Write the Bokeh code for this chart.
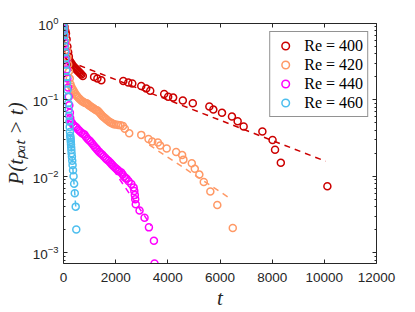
from bokeh.plotting import figure
from bokeh.models import LinearAxis, LogAxis, FixedTicker, Legend, LegendItem
from bokeh.embed import file_html
from bokeh.resources import INLINE

# ---------------- data ----------------
t400 = [0, 40, 70, 95, 120, 150, 180, 205, 229, 270, 306, 345, 382, 420, 459, 500, 535,
        575, 611, 650, 688, 740, 1173, 1300, 1452, 2293, 2484, 2637, 2981, 3172, 3325,
        3860, 4013, 4204, 4575, 4957, 5592, 5745, 6077, 6459, 6677, 6906, 7625, 8015,
        8110, 8332, 10117]
p400 = [1.0, 0.9, 0.8, 0.74, 0.62, 0.5, 0.42, 0.37, 0.33, 0.31, 0.299, 0.285, 0.273,
        0.265, 0.257, 0.249, 0.242, 0.235, 0.228, 0.221, 0.215, 0.205, 0.200, 0.190,
        0.181, 0.176, 0.169, 0.164, 0.152, 0.141, 0.132, 0.119, 0.110, 0.107, 0.098,
        0.090, 0.082, 0.0746, 0.0676, 0.0604, 0.0524, 0.0447, 0.0385, 0.0299, 0.0223,
        0.0150, 0.0074]

t420 = [0, 30, 60, 90, 120, 150, 180, 210, 240, 268, 300, 340, 380, 420, 460, 500, 535,
        580, 630, 680, 730, 780, 830, 880, 917, 960, 1010, 1060, 1110, 1160, 1210, 1260,
        1300, 1350, 1400, 1450, 1500, 1550, 1605, 1660, 1720, 1780, 1830, 1873, 1930,
        2000, 2100, 2190, 2282, 2350, 2520, 2981, 3260, 3402, 3619, 3707, 3956, 4319,
        4548, 4598, 4919, 5034, 5209, 5378, 5630, 5897, 6490]
p420 = [1.0, 0.85, 0.7, 0.57, 0.45, 0.36, 0.29, 0.235, 0.19, 0.16, 0.148, 0.140, 0.133,
        0.126, 0.119, 0.114, 0.110, 0.106, 0.102, 0.098, 0.095, 0.093, 0.091, 0.090,
        0.089, 0.086, 0.083, 0.081, 0.079, 0.077, 0.075, 0.073, 0.0724, 0.070, 0.067,
        0.064, 0.061, 0.059, 0.057, 0.055, 0.053, 0.051, 0.050, 0.049, 0.048, 0.0475,
        0.047, 0.0465, 0.0455, 0.0420, 0.0365, 0.0348, 0.0308, 0.0284, 0.0276, 0.0252,
        0.0230, 0.0208, 0.0190, 0.0165, 0.0148, 0.0125, 0.0105, 0.0084, 0.0063, 0.0042,
        0.0021]

t440 = [0, 15, 33, 54, 77, 101, 126, 151, 176, 201, 224, 245, 259, 268, 320, 380, 440,
        497, 560, 620, 680, 740, 803, 860, 920, 980, 1032, 1090, 1150, 1210, 1260, 1300,
        1360, 1420, 1480, 1540, 1605, 1660, 1720, 1780, 1830, 1873, 1930, 1990, 2050,
        2100, 2140, 2217, 2270, 2320, 2380, 2420, 2500, 2600, 2690, 2715, 2735, 2750,
        2770, 2916, 3107, 3275, 3467, 3490]
p440 = [1.0, 0.85, 0.7, 0.55, 0.43, 0.33, 0.25, 0.19, 0.145, 0.11, 0.085, 0.068, 0.058,
        0.052, 0.050, 0.047, 0.045, 0.0434, 0.041, 0.039, 0.0375, 0.036, 0.0351, 0.033,
        0.031, 0.0295, 0.0284, 0.027, 0.0255, 0.024, 0.023, 0.022, 0.021, 0.020, 0.0192,
        0.0183, 0.0173, 0.0166, 0.0159, 0.0152, 0.0146, 0.0140, 0.0134, 0.0128, 0.0123,
        0.0119, 0.0115, 0.0112, 0.0105, 0.0099, 0.0095, 0.0093, 0.0086, 0.0079, 0.0071,
        0.0064, 0.0057, 0.0050, 0.0043, 0.00357, 0.00286, 0.00214, 0.00143, 0.00072]

t460 = [0, 8, 17, 27, 39, 53, 66, 80, 94, 108, 122, 137, 152, 167, 183, 197, 211, 224,
        237, 248, 257, 270, 276, 282, 288, 295, 302, 310, 322, 335, 348, 365, 385, 408,
        432, 468, 490]
p460 = [1.0, 0.9, 0.8, 0.7, 0.6, 0.5, 0.42, 0.35, 0.29, 0.24, 0.2, 0.165, 0.135, 0.11,
        0.09, 0.075, 0.062, 0.052, 0.044, 0.038, 0.034, 0.032, 0.030, 0.028, 0.026,
        0.024, 0.022, 0.020, 0.018, 0.016, 0.014, 0.012, 0.010, 0.008, 0.006, 0.004,
        0.002]

# exponential fits (dashed), end points
fit400_t = [611, 10052]
fit400_p = [0.282, 0.0157]
fit420_t = [3287, 6383]
fit420_p = [0.0257, 0.00513]
fit440_t = [1911, 3363]
fit440_p = [0.0121, 0.00225]
fit460_t = [260, 480]
fit460_p = [0.035, 0.0036]

labels = ["Re = 400", "Re = 420", "Re = 440", "Re = 460"]
colors = ["#CC0000", "#FF9966", "#FF00FF", "#4DBEEE"]

x_ticks = [0, 2000, 4000, 6000, 8000, 10000, 12000]
y_ticks = [1e-3, 1e-2, 1e-1, 1.0]
y_minor = [m * 10.0 ** e for e in (-4, -3, -2, -1) for m in range(2, 10)]

# ---------------- figure ----------------
p = figure(width=415, height=312, x_range=(0, 12000), y_range=(7.2e-4, 1.0),
           y_axis_type="log", output_backend="svg", toolbar_location=None, title=None,
           min_border_left=62, min_border_right=39, min_border_top=23,
           min_border_bottom=49)
p.grid.visible = False
p.outline_line_color = None
p.background_fill_color = "white"
p.border_fill_color = "white"

axc = "#262626"
tick_font = "Liberation Sans"

p.xaxis.ticker = FixedTicker(ticks=x_ticks)
p.yaxis.ticker = FixedTicker(ticks=y_ticks, minor_ticks=y_minor)

for ax in (p.xaxis[0], p.yaxis[0]):
    ax.axis_line_color = axc
    ax.major_tick_line_color = axc
    ax.minor_tick_line_color = axc
    ax.major_tick_in = 4
    ax.major_tick_out = 0
    ax.minor_tick_in = 2
    ax.minor_tick_out = 0
    ax.major_label_text_font = tick_font
    ax.major_label_text_font_size = "13.5px"
    ax.major_label_text_color = axc
    ax.axis_label_text_font = "Liberation Serif"
    ax.axis_label_text_font_style = "italic"
    ax.axis_label_text_color = axc
p.xaxis.minor_tick_line_color = None
p.xaxis.major_label_standoff = 9
p.yaxis.major_label_standoff = 5
p.xaxis.axis_label = "t"
p.xaxis.axis_label_text_font_size = "21px"
p.xaxis.axis_label_standoff = 1
p.yaxis.axis_label = "P(tₚₐₜ > t)"
p.yaxis.axis_label_text_font_size = "21px"
p.yaxis.axis_label_standoff = 2

top = LinearAxis(ticker=FixedTicker(ticks=x_ticks))
right = LogAxis(ticker=FixedTicker(ticks=y_ticks, minor_ticks=y_minor))
for ax in (top, right):
    ax.axis_line_color = axc
    ax.major_tick_line_color = axc
    ax.minor_tick_line_color = axc
    ax.major_tick_in = 4
    ax.major_tick_out = 0
    ax.minor_tick_in = 2
    ax.minor_tick_out = 0
    ax.major_label_text_font_size = "2px"
    ax.major_label_text_color = None
    ax.major_label_standoff = 0
top.minor_tick_line_color = None
p.add_layout(top, "above")
p.add_layout(right, "right")

series = [(t400, p400, fit400_t, fit400_p), (t420, p420, fit420_t, fit420_p),
          (t440, p440, fit440_t, fit440_p), (t460, p460, fit460_t, fit460_p)]
items = []
for (ts, ps, ft, fp), lab, col in zip(series, labels, colors):
    r = p.scatter(ts, ps, marker="circle", size=7, fill_color=None, line_color=col,
                  line_width=1.5)
    p.line(ft, fp, line_color=col, line_width=1.5, line_dash="6 5")
    items.append(LegendItem(label=lab, renderers=[r]))

legend = Legend(items=items, location="top_right")
legend.margin = 8
legend.padding = 4
legend.spacing = 0
legend.label_height = 19
legend.glyph_height = 19
legend.glyph_width = 22
legend.label_standoff = 8
legend.label_text_font = "Liberation Serif"
legend.label_text_font_size = "16px"
legend.label_text_color = "black"
legend.border_line_color = axc
legend.border_line_width = 1
legend.background_fill_color = "white"
legend.background_fill_alpha = 1
p.add_layout(legend)

open("out.html", "w").write(file_html(p, INLINE))
